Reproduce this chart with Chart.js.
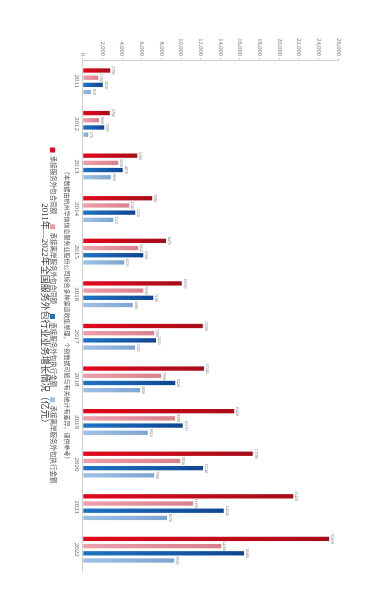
<!DOCTYPE html>
<html><head><meta charset="utf-8">
<script src="https://cdn.jsdelivr.net/npm/chart.js@4.4.1/dist/chart.umd.min.js"></script>
<style>
html,body{margin:0;padding:0;background:#fff;width:380px;height:600px;overflow:hidden;}
#wrap{position:absolute;left:0;top:0;width:600px;height:380px;transform-origin:0 0;transform:translate(380px,0) rotate(90deg);}
canvas{display:block;}
</style></head><body>
<div id="wrap"><canvas id="c" width="600" height="380"></canvas></div>
<script>
const years = ['2011','2012','2013','2014','2015','2016','2017','2018','2019','2020','2021','2022'];
const contractAmount = [2790, 2760, 5560, 7080, 8470, 10070, 12200, 12340, 15420, 17290, 21420, 25050];
const offshoreContract = [1590, 1660, 3620, 4740, 5650, 6160, 7280, 7960, 9390, 9930, 11220, 14100];
const executionAmount = [2030, 2200, 4070, 5350, 6160, 7180, 7450, 9420, 10170, 12240, 14340, 16400];
const offshoreExecution = [810, 570, 2850, 3110, 4230, 5080, 5320, 5830, 6610, 7280, 8570, 9320];
const seriesNames = ['承接服务外包合同额','承接离岸服务外包合同额','承接服务外包执行金额','承接离岸服务外包执行金额'];
const valueTicks = [0,2000,4000,6000,8000,10000,12000,14000,16000,18000,20000,22000,24000,26000];
const titleText = '2011年—2022年全国服务外包行业业务增长情况（亿元）';
const noteText = '（本数据由杭州华信信息服务业股份公司综合多种渠道收集整理，个别数据可能与有关统计有差异，谨供参考）';

const baseColors = [['#e2081c','#a50d18'],['#eea0aa','#d9808c'],['#1f74c4','#0f4592'],['#9fc2e6','#7ea5d2']];
const FONT = "'Liberation Serif', 'Noto Sans CJK SC', serif";

function grad(c0, c1) {
  return (ctx) => {
    const chart = ctx.chart;
    if (!chart.chartArea || ctx.type !== 'data') return c0;
    const ys = chart.scales.y;
    const y0 = ys.getPixelForValue(0);
    const y1 = ys.getPixelForValue(ctx.raw);
    if (!isFinite(y0) || !isFinite(y1) || Math.abs(y0 - y1) < 1) return c0;
    const g = chart.ctx.createLinearGradient(0, y0, 0, y1);
    g.addColorStop(0, c0); g.addColorStop(1, c1);
    return g;
  };
}

const valueLabels = {
  id: 'valueLabels',
  afterDatasetsDraw(chart) {
    const ctx = chart.ctx;
    ctx.save();
    ctx.font = "4px 'Liberation Serif'";
    ctx.fillStyle = '#777';
    ctx.textAlign = 'center';
    ctx.textBaseline = 'bottom';
    chart.data.datasets.forEach((ds, i) => {
      const meta = chart.getDatasetMeta(i);
      meta.data.forEach((bar, j) => {
        ctx.fillText(String(ds.data[j]), bar.x, bar.y - 1);
      });
    });
    ctx.restore();
  }
};

const allSeries = [contractAmount, offshoreContract, executionAmount, offshoreExecution];

new Chart(document.getElementById('c'), {
  type: 'bar',
  data: {
    labels: years,
    datasets: allSeries.map((d, i) => ({
      label: seriesNames[i],
      data: d,
      backgroundColor: grad(baseColors[i][0], baseColors[i][1]),
      borderWidth: 0,
      categoryPercentage: 0.676,
      barPercentage: 0.6
    }))
  },
  options: {
    responsive: false,
    animation: false,
    devicePixelRatio: 1,
    layout: { padding: { left: 0, right: 29, top: 41.7, bottom: 39.1 } },
    scales: {
      x: {
        grid: { display: false, drawTicks: false },
        border: { color: '#cfcfcf', width: 1 },
        ticks: { color: '#666', font: { family: FONT, size: 7 }, padding: 2, maxRotation: 0, minRotation: 0 },
        afterFit: (s) => { s.height = 10; }
      },
      y: {
        min: 0, max: 26000,
        afterBuildTicks: (s) => { s.ticks = valueTicks.map(v => ({ value: v })); },
        grid: { drawOnChartArea: false, drawTicks: true, tickLength: 2, color: '#cfcfcf' },
        border: { color: '#cfcfcf', width: 1 },
        ticks: { color: '#777', font: { family: FONT, size: 6.5 }, padding: 2 },
        afterFit: (s) => { s.width = 60; }
      }
    },
    plugins: {
      legend: {
        position: 'bottom',
        fullSize: false,
        weight: 1000,
        labels: {
          boxWidth: 5, boxHeight: 5, padding: 10,
          color: '#555',
          font: { family: FONT, size: 6.5 },
          generateLabels: (chart) => chart.data.datasets.map((ds, i) => ({
            text: ds.label, fillStyle: baseColors[i][0], strokeStyle: baseColors[i][0],
            lineWidth: 0, hidden: false, datasetIndex: i, fontColor: '#555'
          }))
        }
      },
      subtitle: {
        display: true,
        position: 'bottom',
        fullSize: false,
        weight: 500,
        text: noteText,
        color: '#555',
        font: { family: FONT, size: 6 },
        padding: { top: 2.1, bottom: -2.35 }
      },
      title: {
        display: true,
        position: 'bottom',
        fullSize: false,
        weight: 2000,
        text: titleText,
        color: '#333',
        font: { family: FONT, size: 9, weight: 'normal' },
        padding: { top: -10.65, bottom: 0 }
      },
      tooltip: { enabled: false }
    }
  },
  plugins: [valueLabels]
});
</script>
</body></html>
